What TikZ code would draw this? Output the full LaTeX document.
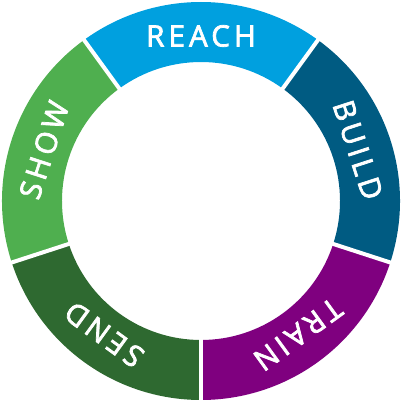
\documentclass[tikz,border=0pt]{standalone}
\usepackage{fontspec}
\setmainfont{Open Sans}
\newfontfamily\lblfont{Open Sans}[FakeBold=2.5, LetterSpace=14]
\usetikzlibrary{calc}
\definecolor{creach}{RGB}{0,160,223}
\definecolor{cbuild}{RGB}{0,91,130}
\definecolor{ctrain}{RGB}{127,0,127}
\definecolor{csend}{RGB}{46,105,48}
\definecolor{cshow}{RGB}{79,175,79}
\tikzset{
  lbl/.style={text=white, font=\lblfont\fontsize{29.5}{29.5}\selectfont, inner sep=0pt, anchor=center},
  gap/.style={draw=white, line width=4pt}
}
\begin{document}
\begin{tikzpicture}[x=1pt,y=1pt]
\useasboundingbox (0,0) rectangle (402,402);
\coordinate (c) at (201,201);
\foreach \s/\e/\col in {54/126/creach, -18/54/cbuild, -90/-18/ctrain, -162/-90/csend, 126/198/cshow}{
  \fill[\col] ($(c)+(\s:199)$) arc[start angle=\s, end angle=\e, radius=199]
     -- ($(c)+(\e:139)$) arc[start angle=\e, end angle=\s, radius=139] -- cycle;
}
\foreach \a in {54,126,198,270,342}{
  \draw[gap] ($(c)+(\a:130)$) -- ($(c)+(\a:210)$);
}
\node[lbl, rotate=0] (reach) at ($(c)+(90:165)$) {REACH};
\node[lbl, rotate=-72] (build) at ($(c)+(18:165)$) {BUILD};
\node[lbl, rotate=-144] (train) at ($(c)+(-54:165)$) {TRAIN};
\node[lbl, rotate=144] (send) at ($(c)+(-126:165)$) {SEND};
\node[lbl, rotate=72] (show) at ($(c)+(162:165)$) {SHOW};
\end{tikzpicture}
\end{document}
